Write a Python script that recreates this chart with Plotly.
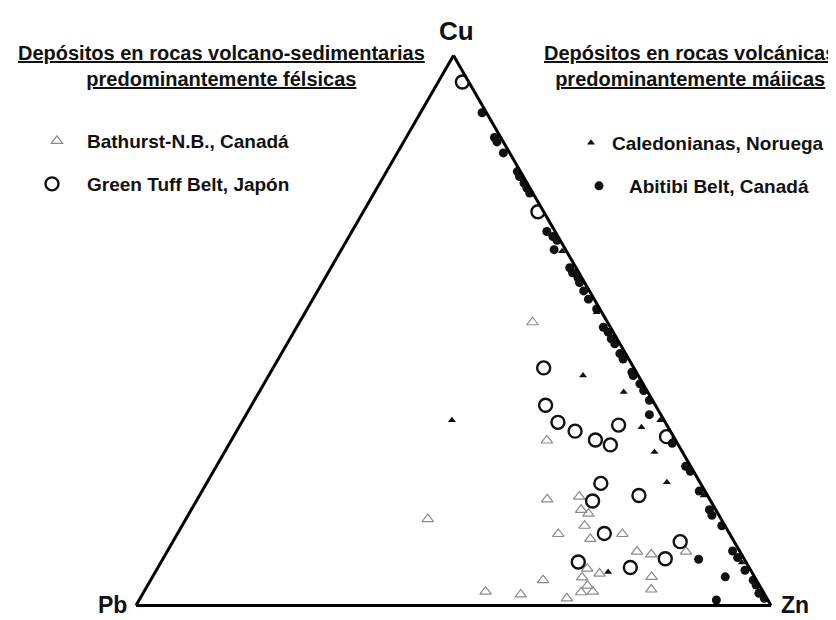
import plotly.graph_objects as go

# ---- data (ternary percentages: Cu, Pb, Zn) ----
bathurst_cu = [51.5, 30.0, 19.3, 19.8, 15.7, 17.4, 16.7, 14.5, 13.0, 12.1, 13.0, 9.8, 9.8, 9.3,
               6.7, 5.8, 5.1, 4.6, 5.2, 2.9, 3.6, 2.4, 2.5, 2.5, 2.0, 1.3]
bathurst_pb = [11.8, 20.3, 25.6, 20.3, 46.2, 21.2, 20.4, 22.1, 27.0, 22.4, 16.9, 8.5, 16.2, 14.2,
               25.6, 24.1, 27.2, 33.6, 16.2, 17.4, 27.1, 28.7, 26.8, 43.7, 38.4, 31.5]
bathurst_zn = [36.7, 49.7, 55.1, 59.9, 38.1, 61.4, 62.9, 63.4, 60.0, 65.5, 70.1, 81.7, 74.0, 76.5,
               67.7, 70.1, 67.7, 61.8, 78.6, 79.7, 69.3, 68.9, 70.7, 53.8, 59.6, 67.2]

greentuff_cu = [95.2, 71.6, 43.2, 36.4, 33.3, 31.7, 30.1, 29.2, 32.8, 30.7, 22.2, 20.0, 19.0,
                13.1, 11.6, 8.5, 7.9, 6.9]
greentuff_pb = [1.0, 0.9, 14.2, 17.3, 16.9, 15.0, 12.6, 10.7, 7.6, 1.1, 15.7, 10.8, 18.6,
                19.7, 8.5, 12.4, 26.4, 18.7]
greentuff_zn = [3.8, 27.5, 42.6, 46.3, 49.8, 53.3, 57.3, 60.1, 59.6, 68.2, 62.1, 69.2, 62.4,
                67.2, 79.9, 79.1, 65.7, 74.4]

caledonianas_cu = [33.7, 41.8, 38.8, 32.4, 27.9, 22.4, 6.1, 33.7, 53.3, 20.0, 7.8, 64.4]
caledonianas_pb = [33.4, 8.7, 3.8, 4.2, 4.4, 5.2, 22.6, 0.6, 0.8, 0.6, 0.7, 0.7]
caledonianas_zn = [32.9, 49.5, 57.4, 63.4, 67.7, 72.4, 71.3, 65.7, 45.9, 79.4, 91.5, 34.9]

abitibi_cu = [89.6, 85.1, 84.3, 82.3, 78.9, 78.0, 76.8, 75.9, 75.0, 68.0, 67.1, 66.4, 64.7,
              61.4, 60.5, 59.6, 58.7, 57.2, 55.7, 53.9, 50.6, 49.7, 48.5, 47.6, 45.8, 44.8,
              42.4, 41.8, 40.3, 39.1, 37.3, 34.7, 29.5, 25.3, 24.4, 20.8, 17.4, 16.4, 14.5,
              8.4, 9.9, 8.7, 6.4, 5.2, 4.6, 3.7, 2.2, 1.3, 1.0]
abitibi_pb = [0.7, 1.0, 1.0, 1.0, 0.5, 0.6, 0.5, 0.5, 0.5, 1.3, 0.8, 0.5, 1.8,
              1.0, 1.0, 0.6, 0.8, 0.9, 0.9, 0.5, 1.1, 0.8, 0.9, 0.8, 0.9, 0.9,
              0.7, 0.8, 0.5, 0.5, 0.5, 1.8, 0.8, 0.8, 0.5, 0.9, 1.0, 1.1, 0.5,
              7.2, 1.1, 0.9, 0.9, 4.6, 0.5, 0.5, 0.8, 0.4, 8.1]
abitibi_zn = [9.7, 13.9, 14.7, 16.7, 20.6, 21.4, 22.7, 23.6, 24.5, 30.7, 32.1, 33.1, 33.5,
              37.6, 38.5, 39.8, 40.5, 41.9, 43.4, 45.6, 48.3, 49.5, 50.6, 51.6, 53.3, 54.3,
              56.9, 57.4, 59.2, 60.4, 62.2, 63.5, 69.7, 73.9, 75.1, 78.3, 81.6, 82.5, 85.0,
              84.4, 89.0, 90.4, 92.7, 90.2, 94.9, 95.8, 97.0, 98.3, 90.9]

names = ["Bathurst-N.B., Canadá", "Green Tuff Belt, Japón",
         "Caledonianas, Noruega", "Abitibi Belt, Canadá"]
vertex_labels = ["Cu", "Pb", "Zn"]
heading_left = ["Depósitos en rocas volcano-sedimentarias", "predominantemente félsicas"]
heading_right = ["Depósitos en rocas volcánicas", "predominantemente máiicas"]

FONT = "Liberation Sans, Arial, sans-serif"
W, H = 836, 620

fig = go.Figure()
fig.add_trace(go.Scatterternary(
    a=bathurst_cu, b=bathurst_pb, c=bathurst_zn, mode="markers", name=names[0],
    marker=dict(symbol="triangle-up-open", size=10, color="#8a8a8a", line=dict(width=1.2)),
    legend="legend"))
fig.add_trace(go.Scatterternary(
    a=greentuff_cu, b=greentuff_pb, c=greentuff_zn, mode="markers", name=names[1],
    marker=dict(symbol="circle-open", size=13, color="#111111", line=dict(width=2.4)),
    legend="legend2"))
fig.add_trace(go.Scatterternary(
    a=caledonianas_cu, b=caledonianas_pb, c=caledonianas_zn, mode="markers", name=names[2],
    marker=dict(symbol="triangle-up", size=7, color="#111111"),
    legend="legend3"))
fig.add_trace(go.Scatterternary(
    a=abitibi_cu, b=abitibi_pb, c=abitibi_zn, mode="markers", name=names[3],
    marker=dict(symbol="circle", size=9, color="#111111"),
    legend="legend4"))

axis_style = dict(showgrid=False, showticklabels=False, ticks="", linecolor="black",
                  linewidth=3, showline=True, title=dict(text=""))

def px_x(x):
    return x / W

def px_y(y):
    return (H - y) / H

legend_common = dict(font=dict(family=FONT, size=19, color="#111111", weight="bold"),
                     bgcolor="rgba(0,0,0,0)", xanchor="left", yanchor="middle",
                     borderwidth=0)

fig.update_layout(
    width=W, height=H,
    margin=dict(l=0, r=0, t=0, b=0),
    paper_bgcolor="white",
    font=dict(family=FONT, color="#111111"),
    ternary=dict(
        sum=100,
        bgcolor="white",
        domain=dict(x=[128 / W, 763 / W], y=[px_y(598), px_y(47)]),
        aaxis=axis_style, baxis=axis_style, caxis=axis_style,
    ),
    legend=dict(legend_common, x=px_x(19), y=px_y(133), itemwidth=50),
    legend2=dict(legend_common, x=px_x(9), y=px_y(176), itemwidth=60),
    legend3=dict(legend_common, x=px_x(562), y=px_y(135), itemwidth=32),
    legend4=dict(legend_common, x=px_x(561), y=px_y(178), itemwidth=50),
    showlegend=True,
)

annotations = [
    dict(text="<b>%s</b>" % vertex_labels[0], x=px_x(448), y=px_y(23), size=26,
         xanchor="center", yanchor="middle", yshift=0),
    dict(text="<b>%s</b>" % vertex_labels[1], x=px_x(104), y=0.0, size=23,
         xanchor="center", yanchor="bottom", yshift=8),
    dict(text="<b>%s</b>" % vertex_labels[2], x=px_x(787), y=0.0, size=23,
         xanchor="center", yanchor="bottom", yshift=8),
    dict(text="<b><u>%s</u><br><u>%s</u></b>" % tuple(heading_left), x=px_x(213), y=px_y(57.5),
         size=20, xanchor="center", yanchor="middle", yshift=0),
    dict(text="<b><u>%s</u><br><u>%s</u></b>" % tuple(heading_right), x=px_x(682), y=px_y(57.5),
         size=20, xanchor="center", yanchor="middle", yshift=0),
]
for a in annotations:
    fig.add_annotation(text=a["text"], x=a["x"], y=a["y"], xref="paper", yref="paper",
                       xanchor=a["xanchor"], yanchor=a["yanchor"], yshift=a["yshift"],
                       showarrow=False,
                       font=dict(family=FONT, size=a["size"], color="#111111"))

fig.write_html("out.html", config={"displayModeBar": False})
